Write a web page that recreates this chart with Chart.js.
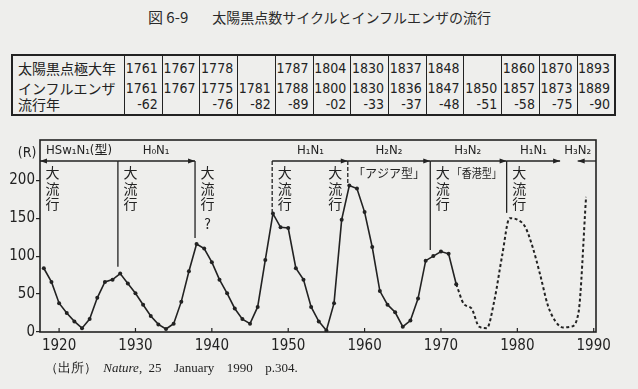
<!DOCTYPE html>
<html lang="ja">
<head>
<meta charset="utf-8">
<script src="https://cdn.jsdelivr.net/npm/chart.js@4.4.1/dist/chart.umd.min.js"></script>
<style>
  html, body { margin: 0; padding: 0; background: #eeeeec; overflow: hidden; }
  body { width: 638px; height: 389px; position: relative; color: #222; }
  #chart { position: absolute; left: 0; top: 0; }
  #title { position: absolute; left: 148px; top: 6px; font: 14px "Noto Sans CJK JP", sans-serif; line-height: 22px; white-space: pre; color: #2a2a2a; }
  #title .fig { font-size: 15px; margin-right: 24px; }
  #maxima { position: absolute; left: 11px; top: 54px; width: 605px; border-collapse: collapse; border: 2px solid #222; table-layout: fixed; }
  #maxima th { width: 106px; text-align: left; font: 14px "Noto Sans CJK JP", sans-serif; font-weight: normal; letter-spacing: 0; padding: 0 0 0 5px; border-right: 1.5px solid #222; }
  #maxima td { text-align: right; padding: 0 4px 0 0; font: 14px "Liberation Sans Narrow", "DejaVu Sans Condensed", sans-serif; border-left: 1.5px solid #222; vertical-align: top; }
  #maxima tr.top th, #maxima tr.top td { height: 24px; line-height: 24px; }
  #maxima tr.flu th, #maxima tr.flu td { height: 34px; line-height: 16px; vertical-align: top; }
  #source { position: absolute; left: 45px; top: 359px; font: 13px "Liberation Serif", serif; line-height: 18px; white-space: pre; word-spacing: 3px; }
  #source i { font-style: italic; }
</style>
</head>
<body>
<div id="title"><span class="fig">図 6-9</span>太陽黒点数サイクルとインフルエンザの流行</div>
<table id="maxima"></table>
<canvas id="chart" width="638" height="389"></canvas>
<div id="source">（出所） <i>Nature</i>, 25  January  1990  p.304.</div>
<script>
"use strict";

// table at the top
const maxRowTitle = '太陽黒点極大年';
const fluRowTitle = ['インフルエンザ', '流行年'];
const sunspotMaxYears = ['1761', '1767', '1778', '', '1787', '1804', '1830', '1837', '1848', '', '1860', '1870', '1893'];
const fluStart = ['1761', '1767', '1775', '1781', '1788', '1800', '1830', '1836', '1847', '1850', '1857', '1873', '1889'];
const fluEnd = ['-62', '', '-76', '-82', '-89', '-02', '-33', '-37', '-48', '-51', '-58', '-75', '-90'];

// sunspot number R, yearly (solid = observed, dashed = later curve)
const solidYears = [1918, 1919, 1920, 1921, 1922, 1923, 1924, 1925, 1926, 1927,
  1928, 1929, 1930, 1931, 1932, 1933, 1934, 1935, 1936, 1937,
  1938, 1939, 1940, 1941, 1942, 1943, 1944, 1945, 1946, 1947,
  1948, 1949, 1950, 1951, 1952, 1953, 1954, 1955, 1956, 1957,
  1958, 1959, 1960, 1961, 1962, 1963, 1964, 1965, 1966, 1967,
  1968, 1969, 1970, 1971, 1972];
const solidR = [84, 66, 38, 25, 14, 5, 17, 45, 66, 69,
  77, 64, 51, 36, 21, 10, 4, 11, 40, 80,
  116, 110, 92, 69, 51, 31, 17, 11, 33, 95,
  156, 138, 137, 84, 69, 33, 14, 2, 38, 148,
  193, 189, 158, 112, 54, 36, 26, 7, 15, 44,
  94, 100, 106, 103, 63];
const dashedYears = [1972, 1973, 1974, 1975, 1976, 1977, 1978, 1979, 1980, 1981,
  1982, 1983, 1984, 1985, 1986, 1987, 1988, 1989];
const dashedR = [63, 37, 31, 7, 5, 42, 100, 150, 148, 139,
  112, 75, 35, 14, 6, 7, 25, 178];

const yTicksShown = 200;

// virus subtypes along the top band (arrow runs from -> to)
const subtypeNames = ['HSw₁N₁(型)', 'H₀N₁', 'H₁N₁', 'H₂N₂', 'H₃N₂', 'H₁N₁', 'H₃N₂'];
const subtypeFrom = [1927.7, 1927.7, 1947.9, 1957.8, 1968.6, 1978.6, 1990.3];
const subtypeTo = [1917.5, 1937.8, 1957.8, 1968.6, 1978.6, 1985.6, 1987.9];
const subtypeLabelYears = [1922.6, 1932.7, 1952.9, 1963.2, 1973.5, 1982.1, 1987.9];

// pandemics: vertical marker lines
const pandemicYears = [1917.5, 1927.7, 1937.8, 1947.9, 1957.8, 1968.6, 1978.6];
const pandemicLineEnd = [null, 86, 124, 158, 194, 108, 157];
const pandemicNotes = ['大流行', '大流行', '大流行?', '大流行', '大流行', '大流行', '大流行'];
const pandemicNoteSide = [1, 1, 1, 1, -1, 1, 1];
const pandemicDashed = [false, false, false, true, true, false, false];

const strainNames = ['「アジア型」', '「香港型」'];
const strainYears = [1963.2, 1974.7];
const strainWidths = [72, 50];

const ink = '#222';
const numFont = '"Liberation Sans Narrow", "DejaVu Sans Condensed", sans-serif';
const cjkFont = '"Noto Sans CJK JP", sans-serif';

function buildTable() {
  const table = document.getElementById('maxima');
  let top = `<tr class="top"><th>${maxRowTitle}</th>`;
  sunspotMaxYears.forEach(y => { top += `<td>${y}</td>`; });
  top += '</tr>';
  let flu = `<tr class="flu"><th>${fluRowTitle.join('<br>')}</th>`;
  fluStart.forEach((y, i) => { flu += `<td>${y}${fluEnd[i] ? '<br>' + fluEnd[i] : ''}</td>`; });
  flu += '</tr>';
  table.innerHTML = top + flu;
}

function line(ctx, x0, y0, x1, y1) {
  ctx.beginPath();
  ctx.moveTo(x0, y0);
  ctx.lineTo(x1, y1);
  ctx.stroke();
}

function arrowHead(ctx, x, y, dir) {
  ctx.beginPath();
  ctx.moveTo(x, y);
  ctx.lineTo(x - dir * 7, y - 2.5);
  ctx.lineTo(x - dir * 7, y + 2.5);
  ctx.closePath();
  ctx.fill();
}

const overlay = {
  id: 'overlay',
  afterDraw(chart) {
    const { ctx, chartArea: a } = chart;
    const x = chart.scales.x, y = chart.scales.y;
    ctx.save();
    ctx.strokeStyle = ink;
    ctx.fillStyle = ink;

    // frame
    ctx.lineWidth = 1.6;
    ctx.strokeRect(a.left, a.top, a.right - a.left, a.bottom - a.top);

    // x ticks point inward
    ctx.lineWidth = 1.2;
    x.ticks.forEach(t => {
      const px = x.getPixelForValue(t.value);
      line(ctx, px, a.bottom, px, a.bottom - 4);
    });

    // (R)
    ctx.font = '14px ' + numFont;
    ctx.textAlign = 'center';
    ctx.textBaseline = 'middle';
    ctx.fillText('(R)', 27, a.top + 13);

    // subtype band
    const bandY = a.top + 21;
    ctx.lineWidth = 1.3;
    ctx.font = '13px "DejaVu Sans Condensed", ' + cjkFont;
    subtypeNames.forEach((name, i) => {
      const x0 = x.getPixelForValue(subtypeFrom[i]);
      const x1 = x.getPixelForValue(subtypeTo[i]);
      line(ctx, x0, bandY, x1, bandY);
      arrowHead(ctx, x1, bandY, Math.sign(x1 - x0));
      ctx.fillText(name, x.getPixelForValue(subtypeLabelYears[i]), a.top + 11);
    });

    // pandemic markers
    ctx.font = '14px ' + cjkFont;
    pandemicYears.forEach((yr, i) => {
      const px = x.getPixelForValue(yr);
      if (pandemicLineEnd[i] !== null) {
        ctx.setLineDash(pandemicDashed[i] ? [4, 2] : []);
        line(ctx, px, bandY, px, y.getPixelForValue(pandemicLineEnd[i]));
        ctx.setLineDash([]);
      }
      const cx = px + pandemicNoteSide[i] * 12.5;
      [...pandemicNotes[i]].forEach((ch, k) => {
        const cy = a.top + 33 + k * 15.5 + (ch === '?' ? 4 : 0);
        ctx.fillText(ch, cx, cy);
      });
    });

    // strain names
    ctx.font = '12px ' + cjkFont;
    strainNames.forEach((s, i) => {
      ctx.fillText(s, x.getPixelForValue(strainYears[i]), a.top + 33, strainWidths[i]);
    });

    ctx.restore();
  }
};

buildTable();

new Chart(document.getElementById('chart'), {
  type: 'line',
  data: {
    datasets: [
      {
        data: solidYears.map((yr, i) => ({ x: yr, y: solidR[i] })),
        borderColor: ink,
        borderWidth: 1.6,
        pointRadius: 2,
        pointBackgroundColor: ink,
        pointBorderWidth: 0,
        tension: 0
      },
      {
        data: dashedYears.map((yr, i) => ({ x: yr, y: dashedR[i] })),
        borderColor: ink,
        borderWidth: 2,
        borderDash: [3, 2.5],
        pointRadius: 0,
        cubicInterpolationMode: 'monotone'
      }
    ]
  },
  options: {
    responsive: false,
    animation: false,
    devicePixelRatio: 1,
    layout: { padding: { top: 140, right: 42, left: 0, bottom: 0 } },
    plugins: { legend: { display: false }, tooltip: { enabled: false } },
    scales: {
      x: {
        type: 'linear',
        min: 1917.5,
        max: 1990.3,
        afterFit: s => { s.height = 57; },
        grid: { display: false, drawTicks: false },
        border: { display: false },
        ticks: {
          stepSize: 10,
          includeBounds: false,
          autoSkip: false,
          maxRotation: 0,
          padding: 5,
          color: ink,
          font: { family: numFont, size: 15 },
          callback: v => String(v)
        }
      },
      y: {
        min: 0,
        max: 253,
        afterFit: s => { s.width = 40; },
        afterBuildTicks: s => { s.ticks = s.ticks.filter(t => t.value <= yTicksShown); },
        grid: { drawOnChartArea: false, tickLength: 4, color: ink, lineWidth: 1.2 },
        border: { display: false },
        ticks: {
          stepSize: 50,
          includeBounds: false,
          padding: 1,
          color: ink,
          font: { family: numFont, size: 15 }
        }
      }
    }
  },
  plugins: [overlay]
});
</script>
</body>
</html>
